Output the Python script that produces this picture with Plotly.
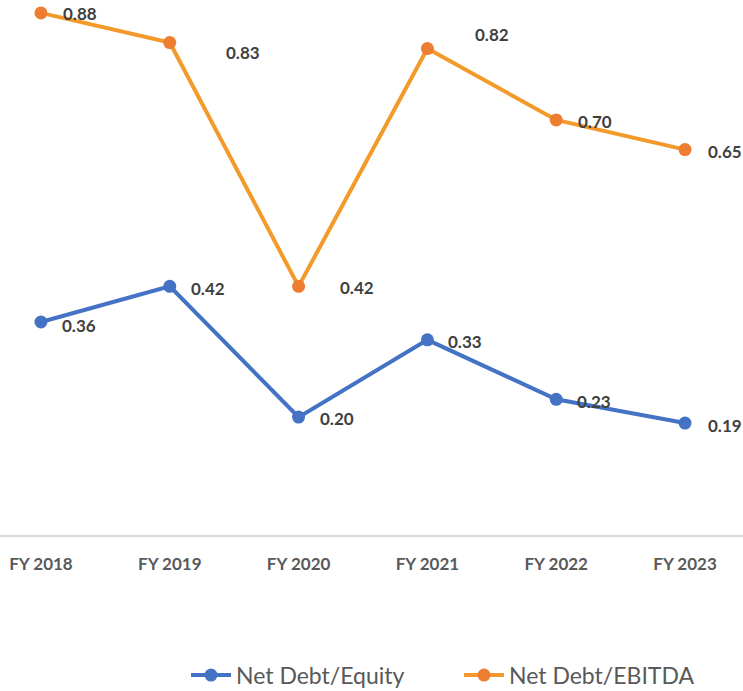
import plotly.graph_objects as go

# Fiscal years and leverage ratios
years = ["FY 2018", "FY 2019", "FY 2020", "FY 2021", "FY 2022", "FY 2023"]
debt_equity = [0.36, 0.42, 0.20, 0.33, 0.23, 0.19]
debt_ebitda = [0.88, 0.83, 0.42, 0.82, 0.70, 0.65]

# Label offsets in pixels (right of each point, vertical nudge)
equity_label_shift = [(19, -3), (19, -2), (19, -1), (19, -2), (19, -2), (21, -2)]
ebitda_label_shift = [(20, -1), (54, -10), (39, -1), (46, 14), (20, -2), (21, -2)]

BLUE = "#4472C4"
ORANGE_LINE = "#F39A2B"
ORANGE_MARK = "#ED7D31"
FONT = "Lato"

fig = go.Figure()
fig.add_trace(go.Scatter(
    x=years, y=debt_equity, name="Net Debt/Equity", mode="lines+markers",
    line=dict(color=BLUE, width=4), marker=dict(color=BLUE, size=13),
    cliponaxis=False,
))
fig.add_trace(go.Scatter(
    x=years, y=debt_ebitda, name="Net Debt/EBITDA", mode="lines+markers",
    line=dict(color=ORANGE_LINE, width=4), marker=dict(color=ORANGE_MARK, size=13),
    cliponaxis=False,
))

annotations = []
for vals, shifts in ((debt_equity, equity_label_shift), (debt_ebitda, ebitda_label_shift)):
    for yr, v, (dx, dy) in zip(years, vals, shifts):
        annotations.append(dict(
            x=yr, y=v, xref="x", yref="y", text=f"{v:.2f}", showarrow=False,
            xanchor="left", yanchor="middle", xshift=dx, yshift=dy,
            font=dict(family=FONT, size=17, color="#404040", weight="bold"),
        ))

fig.update_layout(
    width=743, height=691,
    margin=dict(l=0, r=0, t=1, b=155, autoexpand=False),
    paper_bgcolor="white", plot_bgcolor="white",
    showlegend=True,
    legend=dict(
        orientation="h", x=186 / 743, xref="container", xanchor="left",
        y=0.023, yref="container", yanchor="middle",
        font=dict(family=FONT, size=23, color="#595959"),
        itemwidth=40, tracegroupgap=0,
        entrywidth=218, entrywidthmode="pixels",
    ),
    annotations=annotations,
    xaxis=dict(
        range=[-0.318, 5.45], showgrid=False, zeroline=False,
        showline=False, ticks="", ticklabelstandoff=16,
        tickfont=dict(family=FONT, size=17, color="#595959", weight="bold"),
    ),
    yaxis=dict(
        range=[0, 0.9], showgrid=False, zeroline=True, zerolinecolor="#D9D9D9",
        zerolinewidth=1.5, showticklabels=False, ticks="", showline=False,
    ),
)

fig.write_html("out.html")
